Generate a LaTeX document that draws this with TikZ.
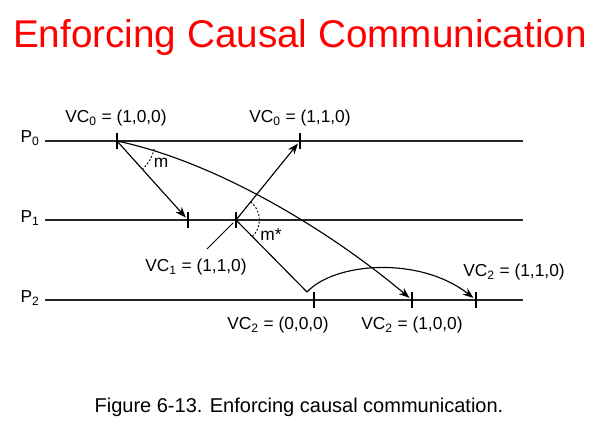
\documentclass[tikz,border=0pt]{standalone}
\usepackage{fontspec}
\setmainfont{Liberation Sans}
\usetikzlibrary{arrows.meta}
\begin{document}
\begin{tikzpicture}[x=0.75pt,y=-0.75pt,
  timeline/.style={draw=black!85, line width=0.9pt},
  tickmark/.style={draw=black, line width=1.6pt},
  msg/.style={draw=black, line width=0.85pt, -{Stealth[length=8pt,width=6pt]}, shorten >=2.5pt},
  plain/.style={draw=black, line width=0.85pt},
  anglemark/.style={draw=black, line width=0.7pt, dash pattern=on 1.4pt off 1.4pt},
  lbl/.style={font=\fontsize{13}{15}\selectfont, inner sep=0pt},
  title/.style={font=\fontsize{29}{32}\selectfont, text=red, inner sep=0pt},
  caption/.style={font=\fontsize{15}{18}\selectfont, inner sep=0pt}]
\useasboundingbox (0,0) rectangle (600,431);
\fill[white] (0,0) rectangle (600,431);

% title and caption
\node[title] (ttl) at (300,38) {Enforcing Causal Communication};
\node[caption] (cap) at (299,407) {Figure 6-13. Enforcing causal communication.};

% process labels and time lines
\node[lbl] (P0) at (30,138) {P\textsubscript{0}};
\node[lbl] (P1) at (30,218) {P\textsubscript{1}};
\node[lbl] (P2) at (30,298) {P\textsubscript{2}};
\coordinate (p0s) at (45,141); \coordinate (p0e) at (523,141);
\coordinate (p1s) at (45,220); \coordinate (p1e) at (523,220);
\coordinate (p2s) at (45,300); \coordinate (p2e) at (523,300);
\draw[timeline] (p0s) -- (p0e);
\draw[timeline] (p1s) -- (p1e);
\draw[timeline] (p2s) -- (p2e);

% events
\coordinate (e0a) at (117,141);
\coordinate (e0b) at (300,141);
\coordinate (e1a) at (188,220);
\coordinate (e1b) at (236,220);
\coordinate (e2a) at (314,300);
\coordinate (e2b) at (412,300);
\coordinate (e2c) at (476,300);
\coordinate (kink) at (307,292);

\foreach \e in {e0a,e0b,e1a,e1b,e2a,e2b,e2c}
  \draw[tickmark] ([yshift=6pt]\e) -- ([yshift=-6pt]\e);

% messages
\draw[msg] (e0a) -- (e1a);
\draw[msg] (e0a) .. controls (217,162) and (330,231) .. (e2b);
\draw[msg] (e1b) -- (e0b);
\draw[plain] (e1b) -- (kink);
\draw[msg] (kink) .. controls (335,262) and (420,256) .. (e2c);

% angle marks
\draw[anglemark] ([shift={(-12:28.5pt)}]e0a) arc[start angle=-12, end angle=-47, radius=28.5pt];
\draw[anglemark] ([shift={(51:17.5pt)}]e1b) arc[start angle=51, end angle=-45, radius=17.5pt];
\node[lbl] (m) at (161,163) {m};
\node[lbl] (mstar) at (271,235) {m*};

% vector clock labels
\node[lbl] (vc0a) at (116,118) {VC\textsubscript{0} = (1,0,0)};
\node[lbl] (vc0b) at (300,118) {VC\textsubscript{0} = (1,1,0)};
\node[lbl] (vc1) at (196,267) {VC\textsubscript{1} = (1,1,0)};
\node[lbl] (vc2a) at (278,325) {VC\textsubscript{2} = (0,0,0)};
\node[lbl] (vc2b) at (412,325) {VC\textsubscript{2} = (1,0,0)};
\node[lbl] (vc2c) at (514,272) {VC\textsubscript{2} = (1,1,0)};
\coordinate (lead) at (207,249);
\draw[plain, line width=0.7pt, shorten >=3pt] (lead) -- (e1b);
\end{tikzpicture}
\end{document}
